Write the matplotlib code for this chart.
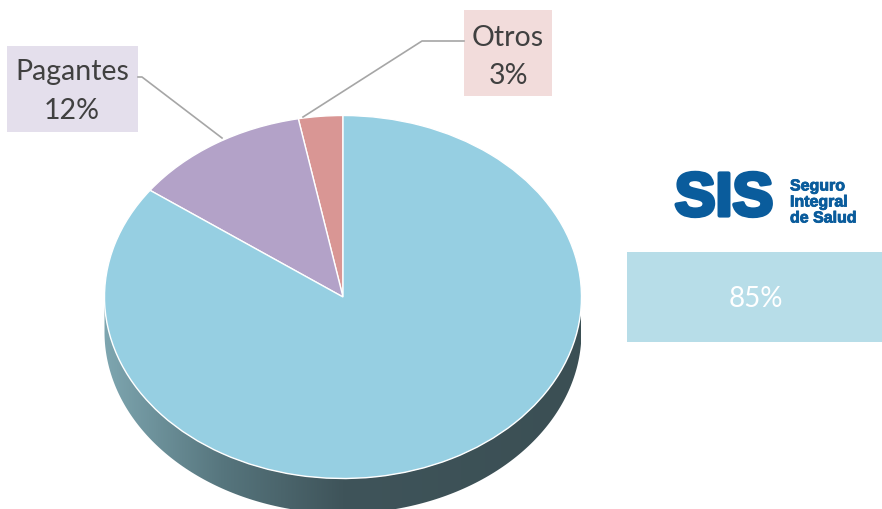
import matplotlib

matplotlib.use("Agg")
import matplotlib.pyplot as plt
import numpy as np
from matplotlib.colors import LinearSegmentedColormap
from matplotlib.patches import Polygon, Rectangle
import matplotlib.patheffects as pe

# data
labels = ["Otros", "Pagantes", "SIS"]
shares = [3, 12, 85]
colors = ["#d99694", "#b3a2c8", "#96cfe2"]
box_colors = ["#f2dcdb", "#e4dfec", "#b7dde8"]

W, H = 882, 510
CX, CY = 343, 298          # pie centre in pixels
RX, RY = 238.5, 181.5      # ellipse radii in pixels
DEPTH = 35 / RY            # wall thickness in ellipse units
TEXT = "#404040"

fig = plt.figure(figsize=(W / 100, H / 100), dpi=100)

# pie axes, one unit = one radius in each direction
ax = fig.add_axes([0, 0, 1, 1])
ax.pie(shares, colors=colors, startangle=90, counterclock=True,
       wedgeprops=dict(edgecolor="white", linewidth=1.0, zorder=3))
ax.set_aspect("auto")
ax.axis("off")

# 3d wall on the front half, shaded left to right
t = np.linspace(np.pi, 2 * np.pi, 200)
wall = np.vstack([np.column_stack([np.cos(t), np.sin(t)]),
                  np.column_stack([np.cos(t[::-1]), np.sin(t[::-1]) - DEPTH])])
wall_patch = Polygon(wall, closed=True, facecolor="none", edgecolor="none")
ax.add_patch(wall_patch)
shade = LinearSegmentedColormap.from_list(
    "wall", [(0, "#7ea6b0"), (0.25, "#56757d"), (0.5, "#3f545a"), (1, "#3b4f54")])
grad = np.linspace(0, 1, 256).reshape(1, -1)
img = ax.imshow(grad, cmap=shade, extent=(-1, 1, -1 - DEPTH, 0.05),
                aspect="auto", zorder=1)
img.set_clip_path(wall_patch)
ax.set_xlim(-CX / RX, (W - CX) / RX)
ax.set_ylim((CY - H) / RY, CY / RY)

# overlay in pixel coordinates for labels and logo
ov = fig.add_axes([0, 0, 1, 1], zorder=5)
ov.set_xlim(0, W)
ov.set_ylim(H, 0)
ov.axis("off")
ov.patch.set_alpha(0)

font = ["Lato", "DejaVu Sans"]
lab_size = 20.5

# Otros label
ov.add_patch(Rectangle((464, 11), 88, 86, facecolor=box_colors[0], edgecolor="none"))
ov.text(508, 38, labels[0], ha="center", va="center", fontsize=lab_size, color=TEXT, family=font)
ov.text(508, 76, f"{shares[0]}%", ha="center", va="center", fontsize=lab_size, color=TEXT, family=font)
ov.plot([464, 422, 303], [42, 42, 118], color="#a6a6a6", lw=1.2)

# Pagantes label
ov.add_patch(Rectangle((7, 47), 131, 86, facecolor=box_colors[1], edgecolor="none"))
ov.text(72, 72, labels[1], ha="center", va="center", fontsize=lab_size, color=TEXT, family=font)
ov.text(72, 111, f"{shares[1]}%", ha="center", va="center", fontsize=lab_size, color=TEXT, family=font)
ov.plot([138, 142, 222], [78, 78, 139], color="#a6a6a6", lw=1.2)

# SIS logo and value box
blue = "#0a5c9c"
ov.text(724, 201, "SIS", ha="center", va="center", fontsize=44, color=blue,
        family="Liberation Sans", fontweight="bold",
        path_effects=[pe.withStroke(linewidth=3, foreground=blue)])
for i, word in enumerate(["Seguro", "Integral", "de Salud"]):
    ov.text(790, 187 + i * 16, word, ha="left", va="center", fontsize=11.5,
            color=blue, family="Liberation Sans", fontweight="bold",
            path_effects=[pe.withStroke(linewidth=0.6, foreground=blue)])

ov.add_patch(Rectangle((627, 253), 255, 90, facecolor=box_colors[2], edgecolor="none"))
ov.text(756, 299, f"{shares[2]}%", ha="center", va="center", fontsize=20,
        color="white", family=font)

fig.savefig("out.png", dpi=100)
